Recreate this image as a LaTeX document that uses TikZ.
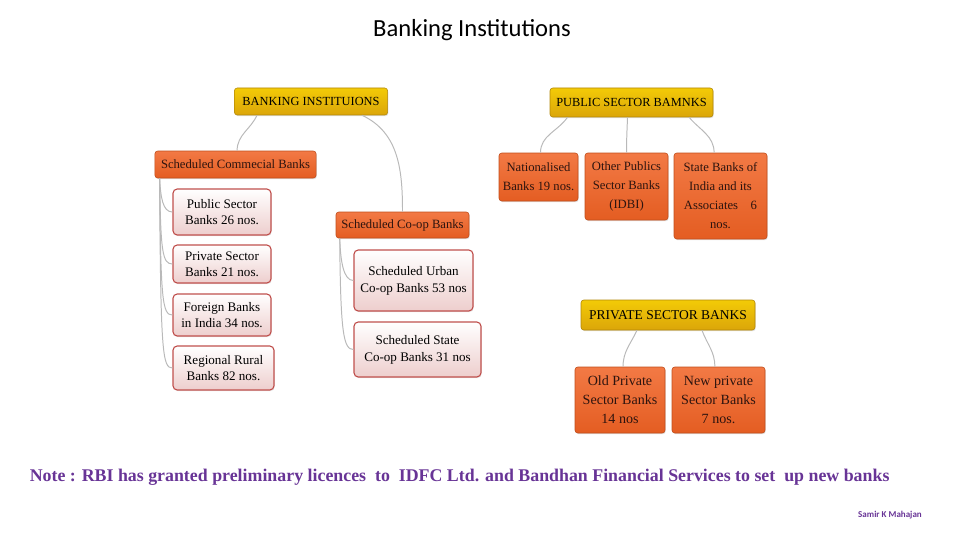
\documentclass[tikz,border=0pt]{standalone}
\usepackage{fontspec}
\setmainfont{Liberation Serif}
\newfontfamily\calibri{Carlito}
\usetikzlibrary{shadows}
\definecolor{gold}{RGB}{238,180,10}
\definecolor{tangerine}{RGB}{240,98,36}
\definecolor{rosewood}{RGB}{192,80,77}
\definecolor{grape}{RGB}{104,52,150}
\definecolor{ink}{RGB}{45,20,15}
\tikzset{
  head/.style={draw=gold!75!black,top color=gold!70!yellow,bottom color=gold!92!black,rounded corners=2pt,
    inner sep=1pt,align=center,font=\fontsize{#1}{10}\selectfont,text=black,
    drop shadow={opacity=0.25,shadow xshift=0.5pt,shadow yshift=-0.8pt}},
  head/.default=8.8,
  branch/.style={draw=tangerine!80!black,top color=tangerine!85!white,bottom color=tangerine!95!black,rounded corners=2pt,
    inner sep=1pt,align=center,font=\fontsize{9}{#1}\selectfont,text=ink,
    drop shadow={opacity=0.25,shadow xshift=0.5pt,shadow yshift=-0.8pt}},
  branch/.default=13.5,
  leaf/.style={draw=rosewood,line width=0.8pt,top color=white,bottom color=rosewood!28,rounded corners=3pt,
    inner sep=1pt,align=center,font=\fontsize{9.3}{#1}\selectfont,text=black,
    drop shadow={opacity=0.2,shadow xshift=0.5pt,shadow yshift=-0.8pt}},
  leaf/.default=11.4,
  link/.style={draw=gray!55,line width=0.7pt},
  remark/.style={font=\fontsize{#1}{#1}\selectfont\bfseries,text=grape},
}

\begin{document}
\begin{tikzpicture}
  \useasboundingbox (0,0) rectangle (24,13.5);
  \node[font=\calibri\fontsize{17.5}{19}\selectfont] (title) at (11.8,12.75) {Banking Institutions};
  % left tree
  \node[head,minimum width=3.83cm,minimum height=6.75mm] (bi) at (7.775,10.9625) {BANKING INSTITUIONS};
  \node[branch,minimum width=4.03cm,minimum height=6.75mm] (scb) at (5.8875,9.3875) {Scheduled Commecial Banks};
  \node[leaf,minimum width=2.45cm,minimum height=11.5mm] (psb) at (5.55,8.2) {Public Sector\\Banks 26 nos.};
  \node[leaf,minimum width=2.45cm,minimum height=9.5mm] (pvb) at (5.55,6.9) {Private Sector\\Banks 21 nos.};
  \node[leaf,minimum width=2.45cm,minimum height=10.5mm] (fb) at (5.55,5.625) {Foreign Banks\\in India 34 nos.};
  \node[leaf,minimum width=2.525cm,minimum height=11mm] (rrb) at (5.5875,4.3) {Regional Rural\\Banks 82 nos.};
  \node[branch,minimum width=3.325cm,minimum height=6.5mm] (sco) at (10.0625,7.875) {Scheduled Co-op Banks};
  \node[leaf=12.2,minimum width=2.975cm,minimum height=15.25mm] (sub) at (10.3375,6.4875) {Scheduled Urban\\Co-op Banks 53 nos};
  \node[leaf=12.2,minimum width=3.175cm,minimum height=13.75mm] (ssb) at (10.4375,4.7625) {Scheduled State\\Co-op Banks 31 nos};
  \draw[link] ([xshift=-1.35cm]bi.south) to[out=-115,in=90] ([xshift=0.04cm]scb.north);
  \draw[link] ([xshift=1.275cm]bi.south) to[out=-25,in=90] (sco.north);
  \foreach \c in {psb,pvb,fb,rrb}
    \draw[link] ([xshift=1.25mm]scb.south west) .. controls ([xshift=1.5mm,yshift=-2mm]scb.south west |- \c.north) and ([xshift=-2.5mm]\c.west) .. (\c.west);
  \foreach \c in {sub,ssb}
    \draw[link] ([xshift=1mm]sco.south west) .. controls ([xshift=1.2mm,yshift=-3mm]sco.south west |- \c.north) and ([xshift=-2.5mm]\c.west) .. (\c.west);
  % public sector
  \node[head,minimum width=4.075cm,minimum height=7.25mm] (pub) at (15.7875,10.9375) {PUBLIC SECTOR BAMNKS};
  \node[branch,minimum width=1.975cm,minimum height=12mm] (nat) at (13.4625,9.075) {Nationalised\\Banks 19 nos.};
  \node[branch,minimum width=2.075cm,minimum height=16.75mm] (opb) at (15.6625,8.8375) {Other Publics\\Sector Banks\\(IDBI)};
  \node[branch,minimum width=2.325cm,minimum height=21.5mm] (sbi) at (18.0125,8.6) {State Banks of\\India and its\\Associates\quad 6\\nos.};
  \draw[link] ([xshift=-1.6cm]pub.south) to[out=-125,in=90] ([xshift=0.05cm]nat.north);
  \draw[link] ([xshift=-0.1cm]pub.south) to[out=-92,in=90] (opb.north);
  \draw[link] ([xshift=1.44cm]pub.south) to[out=-50,in=90] ([xshift=-0.16cm]sbi.north);
  % private sector
  \node[head=9.6,minimum width=4.35cm,minimum height=7.5mm] (pvt) at (16.7,5.625) {PRIVATE SECTOR BANKS};
  \node[branch=13.5,font=\fontsize{10}{13.5}\selectfont,minimum width=2.25cm,minimum height=16.5mm] (old) at (15.5,3.5) {Old Private\\Sector Banks\\14 nos};
  \node[branch=13.5,font=\fontsize{10}{13.5}\selectfont,minimum width=2.325cm,minimum height=16.5mm] (new) at (17.9625,3.5) {New private\\Sector Banks\\7 nos.};
  \draw[link] ([xshift=-0.775cm]pvt.south) to[out=-115,in=90] ([xshift=0.075cm]old.north);
  \draw[link] ([xshift=0.85cm]pvt.south) to[out=-70,in=90] ([xshift=-0.09cm]new.north);
  % footer
  \node[remark=12.7,anchor=west] (note) at (0.62,1.575) {Note : RBI has granted preliminary licences\ \ to\ \ IDFC Ltd. and Bandhan Financial Services to set\ \ up new banks};
  \node[remark=6.4,font=\calibri\fontsize{6.4}{7}\selectfont\bfseries] (author) at (22.25,0.625) {Samir K Mahajan};
\end{tikzpicture}
\end{document}
